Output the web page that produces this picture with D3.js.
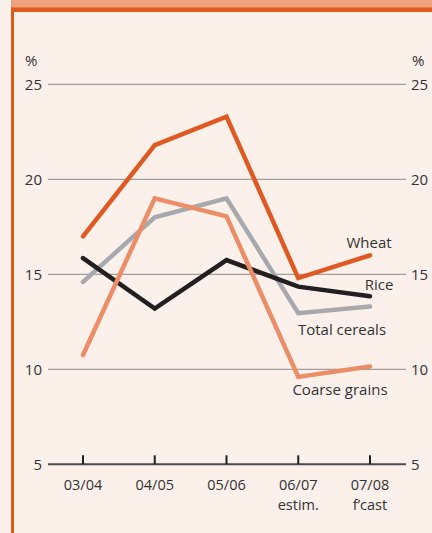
<!DOCTYPE html>
<html>
<head>
<meta charset="utf-8">
<script src="https://cdn.jsdelivr.net/npm/d3@7"></script>
<style>
  body { margin: 0; background: #fcf0eb; }
  svg { display: block; font-family: "Open Sans", sans-serif; }
</style>
</head>
<body>
<div id="chart"></div>
<script>
// Data (% values)

var categories = ["03/04", "04/05", "05/06", "06/07", "07/08"],
    categorySub = ["", "", "", "estim.", "f\u2019cast"];

var wheat        = [17.0, 21.8, 23.3, 14.8, 16.0],
    rice         = [15.85, 13.2, 15.75, 14.35, 13.85],
    totalCereals = [14.6, 18.0, 19.0, 12.95, 13.3],
    coarseGrains = [10.75, 19.0, 18.05, 9.6, 10.15];

var yTicks = [5, 10, 15, 20, 25];

// Drawing order: grey first, wheat on top
var series = [
  { name: "Total cereals", values: totalCereals, color: "#a8a9ad", lx: 342, ly: 335 },
  { name: "Rice",          values: rice,         color: "#231f20", lx: 379, ly: 290 },
  { name: "Coarse grains", values: coarseGrains, color: "#eb8d66", lx: 340, ly: 395 },
  { name: "Wheat",         values: wheat,        color: "#df5a22", lx: 369, ly: 248 }
];

var width = 432,
    height = 533;

var plot = { left: 48, right: 406 };

var svg = d3.select("#chart").append("svg")
    .attr("width", width)
    .attr("height", height);

// Frame: light band on top, dark orange rule and left border
svg.append("rect")
    .attr("x", 11).attr("y", 0)
    .attr("width", width - 11).attr("height", 8)
    .attr("fill", "#eda17d");

svg.append("rect")
    .attr("x", 11).attr("y", 7.5)
    .attr("width", width - 11).attr("height", 4.5)
    .attr("fill", "#e05a1e");

svg.append("rect")
    .attr("x", 11).attr("y", 7.5)
    .attr("width", 3).attr("height", height)
    .attr("fill", "#e05a1e");

var xScale = d3.scalePoint()
    .domain(categories)
    .range([83, 370]);

var yScale = d3.scaleLinear()
    .domain([5, 25])
    .range([464.3, 84.3]);

// Gridlines
svg.append("g")
    .attr("class", "grid")
  .selectAll("line")
    .data(yTicks.filter(function(d) { return d > 5; }))
  .enter().append("line")
    .attr("x1", plot.left)
    .attr("x2", plot.right)
    .attr("y1", function(d) { return yScale(d); })
    .attr("y2", function(d) { return yScale(d); })
    .attr("stroke", "#8a8a8c")
    .attr("stroke-width", 1);

// Tick labels both sides
var tickLabels = svg.append("g")
    .attr("class", "y-labels")
    .attr("font-size", 15)
    .attr("fill", "#333333");

tickLabels.selectAll("text.left")
    .data(yTicks)
  .enter().append("text")
    .attr("class", "left")
    .attr("x", 42)
    .attr("y", function(d) { return yScale(d); })
    .attr("dy", "0.36em")
    .attr("text-anchor", "end")
    .text(function(d) { return d; });

tickLabels.selectAll("text.right")
    .data(yTicks)
  .enter().append("text")
    .attr("class", "right")
    .attr("x", 411)
    .attr("y", function(d) { return yScale(d); })
    .attr("dy", "0.36em")
    .attr("text-anchor", "start")
    .text(function(d) { return d; });

tickLabels.append("text")
    .attr("x", 25).attr("y", 66)
    .text("%");

tickLabels.append("text")
    .attr("x", 412).attr("y", 66)
    .text("%");

// Baseline axis with upward ticks
var xAxis = svg.append("g")
    .attr("class", "x-axis");

xAxis.append("line")
    .attr("x1", plot.left)
    .attr("x2", plot.right)
    .attr("y1", yScale(5))
    .attr("y2", yScale(5))
    .attr("stroke", "#4d4d4f")
    .attr("stroke-width", 2);

xAxis.selectAll("line.tick")
    .data(categories)
  .enter().append("line")
    .attr("class", "tick")
    .attr("x1", function(d) { return xScale(d); })
    .attr("x2", function(d) { return xScale(d); })
    .attr("y1", yScale(5))
    .attr("y2", yScale(5) - 9)
    .attr("stroke", "#231f20")
    .attr("stroke-width", 2);

// Category labels, second line (estim. / f'cast) underneath
var catLabels = xAxis.selectAll("text.cat")
    .data(categories)
  .enter().append("text")
    .attr("class", "cat")
    .attr("x", function(d) { return xScale(d); })
    .attr("y", 490)
    .attr("text-anchor", "middle")
    .attr("font-size", 14.5)
    .attr("fill", "#333333")
    .text(function(d) { return d; });

xAxis.selectAll("text.sub")
    .data(categories.filter(function(d, i) { return categorySub[i] !== ""; }))
  .enter().append("text")
    .attr("class", "sub")
    .attr("x", function(d) { return xScale(d); })
    .attr("y", 509.5)
    .attr("text-anchor", "middle")
    .attr("font-size", 14.5)
    .attr("fill", "#333333")
    .text(function(d) { return categorySub[categories.indexOf(d)]; });

// Lines
var line = d3.line()
    .x(function(d, i) { return xScale(categories[i]); })
    .y(function(d) { return yScale(d); });

var lines = svg.append("g")
    .attr("class", "lines");

lines.selectAll("path")
    .data(series)
  .enter().append("path")
    .attr("d", function(d) { return line(d.values); })
    .attr("fill", "none")
    .attr("stroke", function(d) { return d.color; })
    .attr("stroke-width", 4.5)
    .attr("stroke-linecap", "round")
    .attr("stroke-linejoin", "miter");

// Series labels
svg.append("g")
    .attr("class", "series-labels")
  .selectAll("text")
    .data(series)
  .enter().append("text")
    .attr("x", function(d) { return d.lx; })
    .attr("y", function(d) { return d.ly; })
    .attr("text-anchor", "middle")
    .attr("font-size", 15)
    .attr("fill", "#333333")
    .text(function(d) { return d.name; });
</script>
</body>
</html>
